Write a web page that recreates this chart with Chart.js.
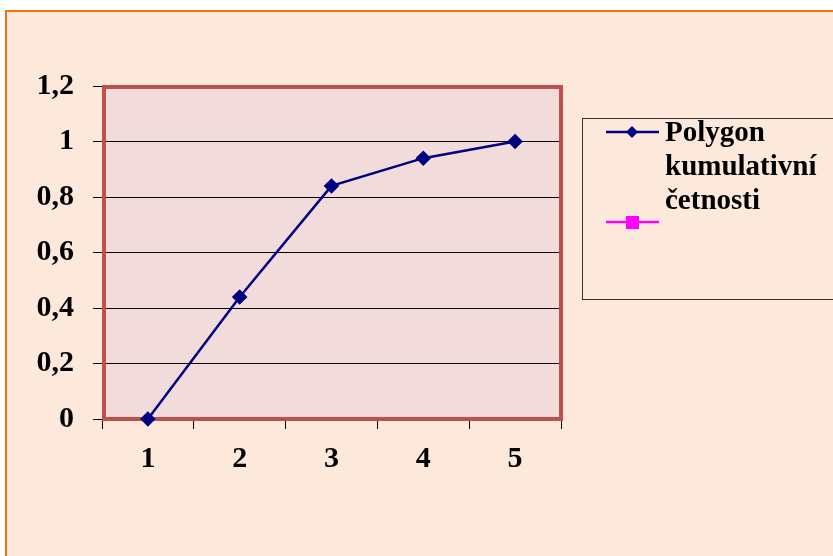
<!DOCTYPE html>
<html>
<head>
<meta charset="utf-8">
<style>
  html, body { margin: 0; padding: 0; background: #ffffff; }
  canvas { display: block; }
</style>
<script src="https://cdn.jsdelivr.net/npm/chart.js@4/dist/chart.umd.min.js"></script>
</head>
<body>
<canvas id="c" width="833" height="556"></canvas>
<script>
// Categories on the x axis
const categories = ['1', '2', '3', '4', '5'];
// Cumulative relative frequency
const cumulative = [0, 0.44, 0.84, 0.94, 1.0];
// Second (empty) series shown in the legend only
const secondSeries = [null, null, null, null, null];
const seriesNames = ['Polygon kumulativní četnosti', ''];
// Y axis range
const yMin = 0, yMax = 1.2, yStep = 0.2;

const FONT = '"Liberation Serif", "Times New Roman", serif';

const framePlugin = {
  id: 'frame',
  beforeDraw(chart) {
    const ctx = chart.ctx;
    ctx.save();
    ctx.fillStyle = '#ffffff';
    ctx.fillRect(0, 0, chart.width, chart.height);
    ctx.fillStyle = '#FDE9DB';
    ctx.fillRect(6, 11, chart.width, chart.height);
    ctx.strokeStyle = '#F0730F';
    ctx.lineWidth = 2;
    ctx.strokeRect(6, 11, chart.width + 10, chart.height + 10);
    // plot area
    const a = chart.chartArea;
    ctx.fillStyle = '#F2DCDB';
    ctx.fillRect(a.left, a.top, a.right - a.left, a.bottom - a.top);
    ctx.restore();
  },
  beforeDatasetsDraw(chart) {
    const ctx = chart.ctx;
    const a = chart.chartArea;
    ctx.save();
    ctx.strokeStyle = '#C0504D';
    ctx.lineWidth = 4;
    ctx.strokeRect(a.left + 2, a.top + 1, a.right - a.left - 2, a.bottom - a.top - 1);
    ctx.restore();
  },
  afterDraw(chart) {
    const ctx = chart.ctx;
    ctx.save();
    // legend box
    ctx.strokeStyle = '#333333';
    ctx.lineWidth = 1;
    ctx.strokeRect(582.5, 118.5, 300, 181);
    ctx.font = 'bold 29px ' + FONT;
    ctx.fillStyle = '#000000';
    ctx.textBaseline = 'middle';
    let y = 132;
    chart.data.datasets.forEach(ds => {
      // symbol
      ctx.strokeStyle = ds.borderColor;
      ctx.lineWidth = 2.5;
      ctx.beginPath();
      ctx.moveTo(606, y);
      ctx.lineTo(659, y);
      ctx.stroke();
      ctx.fillStyle = ds.backgroundColor;
      if (ds.pointStyle === 'rectRot') {
        ctx.beginPath();
        ctx.moveTo(632, y - 6); ctx.lineTo(638, y); ctx.lineTo(632, y + 6); ctx.lineTo(626, y);
        ctx.closePath(); ctx.fill();
      } else {
        ctx.fillRect(626, y - 6, 13, 13);
      }
      // wrapped label
      const words = ds.label ? ds.label.split(' ') : [];
      const lines = [];
      let cur = '';
      words.forEach(w => {
        const t = cur ? cur + ' ' + w : w;
        if (cur && ctx.measureText(t).width > 160) { lines.push(cur); cur = w; } else { cur = t; }
      });
      if (cur) lines.push(cur);
      ctx.fillStyle = '#000000';
      lines.forEach((ln, i) => ctx.fillText(ln, 665, y + 2 + i * 34));
      y += Math.max(lines.length, 1) * 30;
    });
    ctx.restore();
  }
};

new Chart(document.getElementById('c'), {
  type: 'line',
  data: {
    labels: categories,
    datasets: [
      {
        label: seriesNames[0],
        data: cumulative,
        borderColor: '#000080',
        backgroundColor: '#000080',
        borderWidth: 2.5,
        pointStyle: 'rectRot',
        pointRadius: 6,
        pointHoverRadius: 6,
        tension: 0,
        clip: false
      },
      {
        label: seriesNames[1],
        data: secondSeries,
        borderColor: '#FF00FF',
        backgroundColor: '#FF00FF',
        borderWidth: 2.5,
        pointStyle: 'rect',
        pointRadius: 6
      }
    ]
  },
  options: {
    responsive: false,
    animation: false,
    devicePixelRatio: 1,
    layout: { padding: { top: 86, right: 272, bottom: 77, left: 0 } },
    plugins: { legend: { display: false }, tooltip: { enabled: false } },
    scales: {
      x: {
        type: 'category',
        offset: true,
        afterFit(s) { s.height = 60; },
        grid: {
          offset: true,
          drawOnChartArea: false,
          drawTicks: true,
          tickLength: 10,
          tickColor: '#000000',
          tickWidth: 1
        },
        border: { display: true, color: '#000000', width: 1 },
        ticks: {
          color: '#000000',
          padding: 12,
          font: { family: FONT, size: 30, weight: 'bold' },
          maxRotation: 0
        }
      },
      y: {
        min: yMin,
        max: yMax,
        afterFit(s) { s.width = 102; },
        grid: {
          color: '#000000',
          lineWidth: 1,
          drawTicks: true,
          tickLength: 9,
          tickColor: '#000000'
        },
        border: { display: true, color: '#000000', width: 1 },
        ticks: {
          stepSize: yStep,
          color: '#000000',
          padding: 19,
          font: { family: FONT, size: 30, weight: 'bold' },
          callback: v => String(Math.round(v * 10) / 10).replace('.', ',')
        }
      }
    }
  },
  plugins: [framePlugin]
});
</script>
</body>
</html>
